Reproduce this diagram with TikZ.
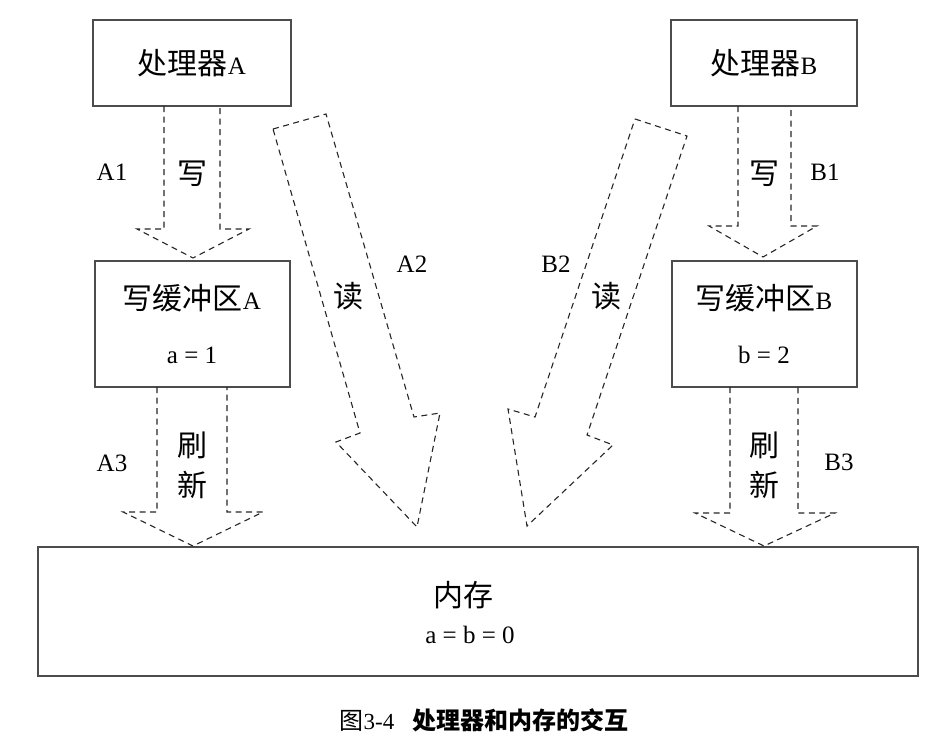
\documentclass[tikz,border=0pt]{standalone}
\usepackage{fontspec}
\setmainfont{Liberation Serif}
\newfontfamily\cjk[Scale=1.2]{Noto Sans CJK SC}
\begin{document}
\begin{tikzpicture}[x=1pt,y=-1pt,
  box/.style={draw=black!70,line width=1.1pt,inner sep=0pt},
  blockarrow/.style={draw=black!85,line width=1.1pt,dash pattern=on 6pt off 4.5pt,line join=miter},
  lbl/.style={inner sep=0pt,font=\fontsize{25}{30}\selectfont},
  zh/.style={inner sep=0pt,font=\fontsize{25}{30}\selectfont\cjk}]
\useasboundingbox (0,0) rectangle (951,742);
% boxes
\node[box,minimum width=198pt,minimum height=86pt] (pa) at (192,63) {};
\node[box,minimum width=186pt,minimum height=86pt] (pb) at (764,63) {};
\node[box,minimum width=195pt,minimum height=126pt] (wa) at (192.5,324) {};
\node[box,minimum width=185pt,minimum height=126pt] (wb) at (764.5,324) {};
\node[box,minimum width=880pt,minimum height=129pt] (mem) at (478,611.5) {};
% box texts
\node[lbl] (tpa) at (192,63) {{\cjk 处理器}A};
\node[lbl] (tpb) at (764,63) {{\cjk 处理器}B};
\node[lbl] (twa) at (192,298) {{\cjk 写缓冲区}A};
\node[lbl] (twa2) at (192,355) {a = 1};
\node[lbl] (twb) at (764,298) {{\cjk 写缓冲区}B};
\node[lbl] (twb2) at (764,355) {b = 2};
\node[zh] (tmem) at (463,595) {内存};
\node[lbl] (tmem2) at (470,635) {a = b = 0};
% A1 arrow
\draw[blockarrow] (164,106) -- (164,229) -- (137,229) -- (193,258) -- (249,229) -- (220,229) -- (220,106);
\node[lbl] (la1) at (112,172) {A1};
\node[zh] (wa1) at (192,174) {写};
% B1 arrow
\draw[blockarrow] (738,106) -- (738,226) -- (709,226) -- (763,257) -- (817,226) -- (791,226) -- (791,106);
\node[zh] (wb1) at (764,174) {写};
\node[lbl] (lb1) at (825,172) {B1};
% A3 arrow
\draw[blockarrow] (157,387) -- (157,512) -- (123,512) -- (193,546) -- (263,512) -- (227,512) -- (227,387);
\node[lbl] (la3) at (112,463) {A3};
\node[zh] (sa1) at (192,445) {刷};
\node[zh] (sa2) at (192,485) {新};
% B3 arrow
\draw[blockarrow] (730,387) -- (730,513) -- (695,513) -- (764,546) -- (835,513) -- (798,513) -- (798,387);
\node[zh] (sb1) at (764,445) {刷};
\node[zh] (sb2) at (764,485) {新};
\node[lbl] (lb3) at (839,462) {B3};
% A2 read arrow
\draw[blockarrow] (273,129) -- (326,114) -- (414,417) -- (440,413) -- (417,527) -- (336,442) -- (360,433) -- cycle;
\node[zh] (ra) at (348,296) {读};
\node[lbl] (la2) at (412,264) {A2};
% B2 read arrow
\draw[blockarrow] (635,119) -- (687,136) -- (587,435) -- (613,445) -- (527,526) -- (508,409) -- (535,417) -- cycle;
\node[zh] (rb) at (606,296) {读};
\node[lbl] (lb2) at (556,264) {B2};
% caption
\node[inner sep=0pt,font=\fontsize{20}{24}\selectfont] (cap) at (484,720) {{\cjk 图}{\fontsize{23}{24}\selectfont 3-4}\hspace{18pt}{\cjk\bfseries 处理器和内存的交互}};
\end{tikzpicture}
\end{document}
